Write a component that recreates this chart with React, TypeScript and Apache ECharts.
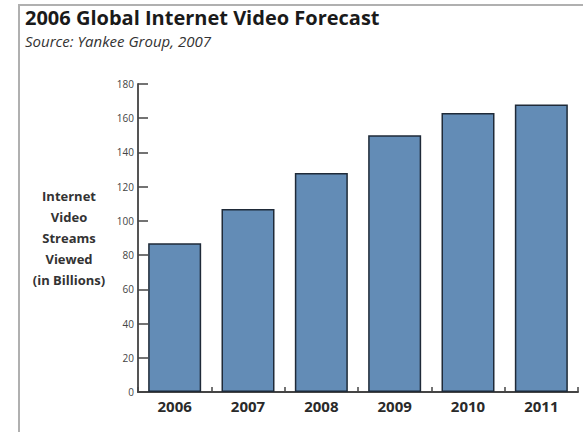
import React, { useEffect, useRef } from "react";
import * as echarts from "echarts";

const years = ["2006", "2007", "2008", "2009", "2010", "2011"];
const streams = [87, 107, 128, 150, 163, 168];
const yTicks = [0, 20, 40, 60, 80, 100, 120, 140, 160, 180];

const titleText = "2006 Global Internet Video Forecast";
const subtitleText = "Source: Yankee Group, 2007";
const yAxisName = "Internet\nVideo\nStreams\nViewed\n(in Billions)";

export default function App() {
  const ref = useRef<HTMLDivElement>(null);
  useEffect(() => {
    if (!ref.current) return;
    const chart = echarts.init(ref.current, undefined, { renderer: "svg" });
    const font = "'Open Sans', Lato, sans-serif";
    chart.setOption({
      animation: false,
      backgroundColor: "#ffffff",
      textStyle: { fontFamily: font },
      graphic: [
        {
          type: "rect",
          shape: { x: 19, y: 5, width: 700, height: 600 },
          style: { fill: "none", stroke: "#b0b0b0", lineWidth: 2 },
          z: 0,
        },
        {
          type: "text",
          x: 25,
          y: 7,
          style: {
            text: titleText,
            font: `bold 20px ${font}`,
            fill: "#1a1a1a",
          },
        },
        {
          type: "text",
          x: 25,
          y: 33,
          style: {
            text: subtitleText,
            font: `italic 15px ${font}`,
            fill: "#333333",
          },
        },
        {
          type: "text",
          x: 69,
          y: 185,
          style: {
            text: yAxisName,
            font: `bold 13px ${font}`,
            fill: "#333333",
            align: "center",
            lineHeight: 21,
          },
        },
      ],
      grid: { left: 138, right: 5, top: 84, bottom: 40, containLabel: false },
      xAxis: {
        type: "category",
        data: years,
        axisLine: { show: true, lineStyle: { color: "#444444", width: 2 } },
        axisTick: { show: true, inside: true, length: 5, lineStyle: { color: "#444444", width: 1.5 } },
        axisLabel: {
          color: "#2a2a2a",
          fontWeight: "bold",
          fontSize: 15,
          fontFamily: font,
          margin: 6,
        },
      },
      yAxis: {
        type: "value",
        min: 0,
        max: yTicks[yTicks.length - 1],
        interval: 20,
        splitLine: { show: false },
        axisLine: { show: true, lineStyle: { color: "#555555", width: 2 } },
        axisTick: { show: true, inside: true, length: 10, lineStyle: { color: "#444444", width: 1.5 } },
        axisLabel: {
          color: "#444444",
          fontSize: 10,
          fontFamily: font,
          margin: 4,
        },
      },
      series: [
        {
          type: "bar",
          data: streams,
          barWidth: 53,
          itemStyle: {
            color: "#638cb6",
            borderColor: "#1f2a38",
            borderWidth: 1.5,
          },
        },
      ],
    });
    return () => chart.dispose();
  }, []);
  return (
    <div
      ref={ref}
      style={{ position: "fixed", left: 0, top: 0, width: 583, height: 432 }}
    />
  );
}
